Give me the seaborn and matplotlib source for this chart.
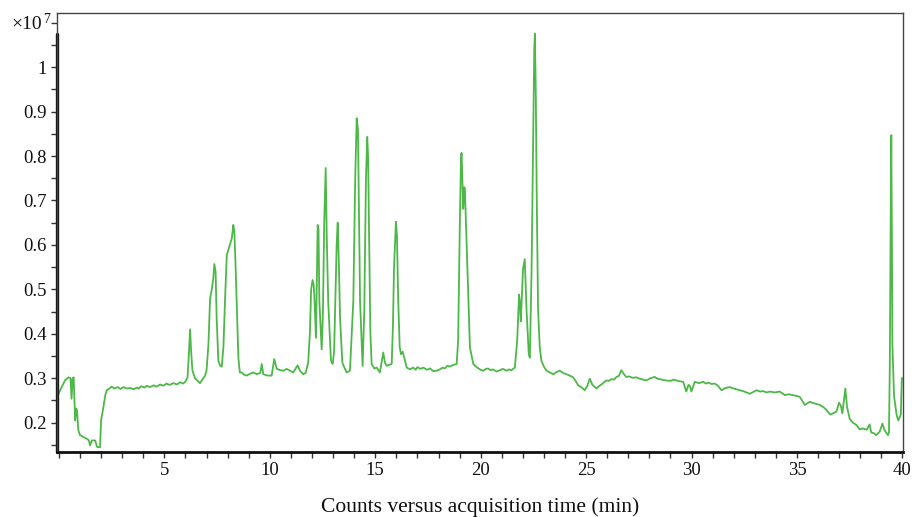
import numpy as np
import pandas as pd
import matplotlib
matplotlib.use("Agg")
import matplotlib.pyplot as plt
from matplotlib.ticker import MultipleLocator
import seaborn as sns

# retention time (min) and counts (x1e7)
time_min = [
    -0.09, -0.07, -0.05, 0.06, 0.18, 0.29, 0.45, 0.55, 0.60, 0.65, 0.70, 0.77, 0.82, 0.86, 0.92,
    1.00, 1.15, 1.32, 1.42, 1.48, 1.56, 1.72, 1.78, 1.82, 1.95, 2.00, 2.11, 2.20, 2.27, 2.40,
    2.50, 2.62, 2.80, 2.92, 3.06, 3.20, 3.40, 3.55, 3.69, 3.80, 3.90, 4.05, 4.17, 4.30, 4.50,
    4.62, 4.80, 4.95, 5.10, 5.25, 5.43, 5.60, 5.75, 5.88, 5.98, 6.10, 6.17, 6.22,
    6.27, 6.33, 6.45, 6.69, 6.85, 6.93, 7.00, 7.09, 7.17, 7.25, 7.32, 7.37, 7.43, 7.48, 7.56,
    7.65, 7.72, 7.80, 7.88, 7.96, 8.03, 8.11, 8.20, 8.27, 8.32, 8.38, 8.43, 8.51, 8.58, 8.67,
    8.78, 8.90, 9.06, 9.22, 9.38, 9.55, 9.62, 9.69, 9.90, 10.09, 10.21, 10.33, 10.50, 10.64, 10.80,
    10.96, 11.11, 11.32, 11.43, 11.59, 11.70, 11.82, 11.90, 11.96, 12.03, 12.08, 12.11, 12.19, 12.27, 12.31,
    12.35, 12.46, 12.52, 12.58, 12.65, 12.70, 12.77, 12.90, 12.98, 13.05, 13.17, 13.22, 13.28, 13.33, 13.44,
    13.64, 13.80, 13.96, 14.05, 14.12, 14.18, 14.22, 14.28, 14.40, 14.48, 14.56, 14.62, 14.66, 14.71, 14.77,
    14.83, 14.95, 15.07, 15.22, 15.38, 15.46, 15.54, 15.78, 15.84, 15.89, 15.98, 16.03, 16.09, 16.16, 16.22,
    16.30, 16.38, 16.49, 16.65, 16.80, 16.92, 17.00, 17.15, 17.28, 17.45, 17.60, 17.75, 17.91, 18.07, 18.20,
    18.30, 18.42, 18.54, 18.70, 18.86, 18.93, 19.01, 19.06, 19.09, 19.13, 19.17, 19.22, 19.25, 19.30, 19.41,
    19.49, 19.65, 19.78, 19.90, 20.00, 20.12, 20.25, 20.35, 20.47, 20.59, 20.75, 20.90, 21.05, 21.23, 21.35,
    21.45, 21.62, 21.73, 21.82, 21.86, 21.90, 22.01, 22.09, 22.17, 22.28, 22.33, 22.41, 22.48, 22.54, 22.57,
    22.61, 22.66, 22.72, 22.80, 22.88, 23.00, 23.12, 23.28, 23.44, 23.60, 23.75, 23.90, 24.07, 24.22, 24.38,
    24.50, 24.62, 24.80, 24.93, 25.05, 25.17, 25.30, 25.49, 25.60, 25.70, 25.85, 25.96, 26.08, 26.20, 26.32,
    26.44, 26.55, 26.67, 26.78, 26.90, 27.05, 27.20, 27.38, 27.54, 27.70, 27.85, 28.05, 28.25, 28.38, 28.50,
    28.65, 28.80, 29.00, 29.15, 29.28, 29.45, 29.60, 29.75, 29.85, 29.92, 29.99, 30.15, 30.35, 30.55, 30.68,
    30.80, 30.95, 31.10, 31.25, 31.42, 31.60, 31.81, 32.05, 32.29, 32.50, 32.76, 33.08, 33.25, 33.40, 33.55,
    33.71, 33.95, 34.18, 34.42, 34.60, 34.81, 35.00, 35.13, 35.37, 35.60, 35.85, 36.08, 36.25, 36.39, 36.58,
    36.70, 36.87, 36.99, 37.08, 37.15, 37.29, 37.37, 37.50, 37.65, 37.81, 37.97, 38.13, 38.30, 38.44, 38.52,
    38.65, 38.76, 38.92, 39.05, 39.15, 39.31, 39.36, 39.40, 39.44, 39.47, 39.50, 39.52, 39.60, 39.72, 39.80,
    39.92, 39.97, 39.99,
]
counts = [
    0.262, 0.348, 0.262, 0.273, 0.285, 0.295, 0.302, 0.300, 0.254, 0.300, 0.302, 0.205, 0.232, 0.228, 0.183,
    0.172, 0.168, 0.164, 0.160, 0.149, 0.160, 0.160, 0.150, 0.145, 0.145, 0.205, 0.235, 0.262, 0.273, 0.277,
    0.281, 0.277, 0.280, 0.276, 0.280, 0.277, 0.278, 0.275, 0.279, 0.277, 0.282, 0.279, 0.283, 0.280, 0.284,
    0.281, 0.286, 0.283, 0.288, 0.285, 0.289, 0.286, 0.291, 0.288, 0.291, 0.302, 0.360, 0.410,
    0.360, 0.318, 0.300, 0.289, 0.300, 0.306, 0.317, 0.376, 0.480, 0.500, 0.525, 0.557, 0.540, 0.436, 0.339,
    0.328, 0.326, 0.369, 0.480, 0.577, 0.588, 0.600, 0.615, 0.645, 0.630, 0.550, 0.473, 0.346, 0.313, 0.313,
    0.308, 0.306, 0.310, 0.313, 0.309, 0.312, 0.332, 0.309, 0.306, 0.306, 0.343, 0.321, 0.318, 0.317, 0.321,
    0.317, 0.313, 0.329, 0.317, 0.309, 0.312, 0.335, 0.400, 0.500, 0.521, 0.510, 0.488, 0.391, 0.645, 0.635,
    0.473, 0.365, 0.450, 0.650, 0.773, 0.620, 0.473, 0.340, 0.332, 0.360, 0.600, 0.650, 0.550, 0.436, 0.335,
    0.313, 0.317, 0.473, 0.750, 0.885, 0.860, 0.700, 0.473, 0.328, 0.450, 0.750, 0.843, 0.800, 0.622, 0.400,
    0.332, 0.322, 0.324, 0.313, 0.358, 0.335, 0.328, 0.332, 0.420, 0.547, 0.652, 0.620, 0.473, 0.370, 0.354,
    0.360, 0.346, 0.324, 0.320, 0.324, 0.319, 0.325, 0.321, 0.324, 0.319, 0.322, 0.316, 0.317, 0.320, 0.324,
    0.322, 0.328, 0.326, 0.330, 0.332, 0.384, 0.644, 0.780, 0.807, 0.750, 0.681, 0.730, 0.726, 0.652, 0.495,
    0.369, 0.332, 0.326, 0.322, 0.319, 0.317, 0.321, 0.322, 0.318, 0.320, 0.315, 0.318, 0.321, 0.317, 0.320,
    0.318, 0.324, 0.384, 0.488, 0.470, 0.428, 0.547, 0.568, 0.458, 0.354, 0.346, 0.533, 0.800, 1.040, 1.075,
    0.950, 0.700, 0.458, 0.370, 0.339, 0.326, 0.317, 0.313, 0.309, 0.314, 0.317, 0.312, 0.309, 0.306, 0.302,
    0.294, 0.284, 0.279, 0.273, 0.282, 0.299, 0.285, 0.277, 0.282, 0.285, 0.291, 0.295, 0.294, 0.298, 0.297,
    0.303, 0.305, 0.318, 0.310, 0.303, 0.304, 0.301, 0.302, 0.299, 0.297, 0.295, 0.300, 0.303, 0.299, 0.298,
    0.296, 0.295, 0.294, 0.297, 0.295, 0.293, 0.292, 0.270, 0.285, 0.283, 0.270, 0.292, 0.289, 0.292, 0.288,
    0.290, 0.287, 0.288, 0.283, 0.273, 0.278, 0.280, 0.276, 0.273, 0.270, 0.265, 0.273, 0.270, 0.271, 0.268,
    0.270, 0.268, 0.270, 0.262, 0.264, 0.262, 0.260, 0.258, 0.240, 0.247, 0.243, 0.240, 0.235, 0.229, 0.218,
    0.221, 0.225, 0.245, 0.238, 0.221, 0.277, 0.236, 0.208, 0.200, 0.195, 0.185, 0.187, 0.184, 0.196, 0.178,
    0.176, 0.172, 0.180, 0.198, 0.183, 0.172, 0.178, 0.330, 0.650, 0.847, 0.600, 0.380, 0.260, 0.218, 0.205,
    0.218, 0.300, 0.300,
]

x_ticks = [5, 10, 15, 20, 25, 30, 35, 40]
y_ticks = [0.2, 0.3, 0.4, 0.5, 0.6, 0.7, 0.8, 0.9, 1.0]
y_tick_labels = ["0.2", "0.3", "0.4", "0.5", "0.6", "0.7", "0.8", "0.9", "1"]

df = pd.DataFrame({"time": time_min, "counts": counts})

sns.set_style("ticks")
plt.rcParams["font.family"] = ["Liberation Serif", "DejaVu Serif"]

fig = plt.figure(figsize=(9.15, 5.17), dpi=100)
ax = fig.add_axes([0.0623, 0.1257, 0.9247, 0.8493])

sns.lineplot(data=df, x="time", y="counts", color="#4cb848", linewidth=1.3, ax=ax, sort=False)

ymin, ymax = 0.134, 1.122
ax.set_xlim(-0.09, 40.03)
ax.set_ylim(ymin, ymax)

ax.set_xticks(x_ticks)
ax.set_xticklabels([str(v) for v in x_ticks])
ax.set_yticks(y_ticks)
ax.set_yticklabels(y_tick_labels)
ax.xaxis.set_minor_locator(MultipleLocator(1))
ax.yaxis.set_minor_locator(MultipleLocator(0.05))
ax.tick_params(which="both", direction="out", length=4, width=1, color="#333333",
               labelsize=13.5, labelcolor="#111111")
ax.tick_params(axis="x", pad=3)

ax.set_xlabel("Counts versus acquisition time (min)", fontsize=15.5, color="#111111", labelpad=13)
ax.set_ylabel("")

for side in ["top", "right", "left"]:
    ax.spines[side].set_visible(True)
    ax.spines[side].set_linewidth(1.0)
    ax.spines[side].set_color("#444444")
ax.spines["bottom"].set_linewidth(2.0)
ax.spines["bottom"].set_color("#111111")
# thick part of the y axis covers the data range only
top_frac = (max(counts) - ymin) / (ymax - ymin)
ax.axvline(ax.get_xlim()[0], ymin=0, ymax=top_frac, color="#111111", linewidth=2.4, clip_on=False)

fig.text(0.012, 0.952, "×10", fontsize=14, color="#111111", va="center")
fig.text(0.0475, 0.963, "7", fontsize=10, color="#111111", va="center")

plt.savefig("out.png", dpi=100)
